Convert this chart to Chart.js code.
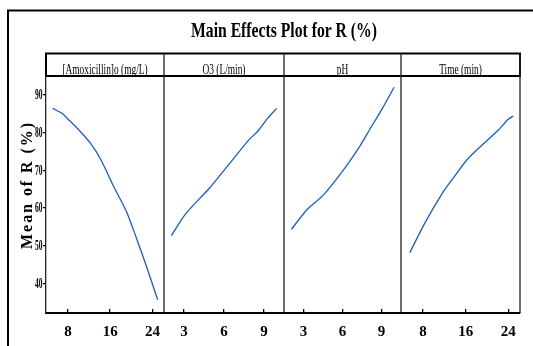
<!DOCTYPE html>
<html><head><meta charset="utf-8">
<script src="https://cdn.jsdelivr.net/npm/chart.js@4"></script>
<style>
html,body{margin:0;padding:0;background:#fff;}
#wrap{position:relative;width:533px;height:346px;overflow:hidden;background:#fff;}
#wrap canvas{position:absolute;left:0;top:0;}
</style></head><body>
<div id="wrap">
<canvas id="c0" width="533" height="346"></canvas>
<canvas id="c1" width="533" height="346"></canvas>
<canvas id="c2" width="533" height="346"></canvas>
<canvas id="c3" width="533" height="346"></canvas>
</div>
<script>
// ---- data ----
const chartTitle = 'Main Effects Plot for R (%)';
const yAxisTitle = 'Mean of R (%)';
const panelTitles = ['[Amoxicillin]o (mg/L)', 'O3 (L/min)', 'pH', 'Time (min)'];

const amoxX = [5.1, 6.9, 8.0, 10.0, 12.3, 14.2, 16.7, 19.1, 21.1, 23.0, 25.0];
const amoxY = [86.4, 85.1, 83.6, 80.8, 77.1, 72.9, 65.6, 59.0, 51.5, 44.0, 35.6];

const o3X = [2.05, 3.05, 4.2, 4.8, 6.2, 7.85, 8.5, 9.25, 9.95];
const o3Y = [52.6, 58.1, 62.6, 64.8, 70.8, 78.0, 80.2, 83.7, 86.4];

const phX = [2.07, 3.26, 4.52, 6.08, 7.3, 8.06, 9.07, 9.97];
const phY = [54.3, 59.5, 63.4, 70.1, 76.2, 80.6, 86.4, 92.0];

const timeX = [5.5, 8.3, 11.8, 13.65, 16.2, 18.4, 22.1, 24.0, 24.95];
const timeY = [48.1, 55.9, 64.3, 67.9, 72.7, 75.8, 80.6, 83.5, 84.4];

const amoxTicks = [8, 16, 24];
const o3Ticks = [3, 6, 9];
const phTicks = [3, 6, 9];
const timeTicks = [8, 16, 24];
const yTicks = [40, 50, 60, 70, 80, 90];

// ---- layout ----
const W = 533, H = 346;
const plotTop = 76, plotBottom = 313, bandTop = 53.5;
const panels = [
  {xs: amoxX, ys: amoxY, ticks: amoxTicks, min: 3.85, max: 26.2, left: 46, right: 164},
  {xs: o3X, ys: o3Y, ticks: o3Ticks, min: 1.5, max: 10.5, left: 164, right: 284},
  {xs: phX, ys: phY, ticks: phTicks, min: 1.5, max: 10.5, left: 284, right: 401},
  {xs: timeX, ys: timeY, ticks: timeTicks, min: 3.85, max: 26.2, left: 401, right: 520}
];
const yMin = 32.1, yMax = 95;
const serif = "'Liberation Serif', 'Times New Roman', serif";

const framePlugin = {
  id: 'frame',
  afterDraw(chart) {
    const ctx = chart.ctx;
    ctx.save();
    // outer frame
    ctx.strokeStyle = '#000';
    ctx.lineWidth = 2;
    ctx.beginPath();
    ctx.moveTo(8, H + 2); ctx.lineTo(8, 10.5); ctx.lineTo(W + 2, 10.5);
    ctx.stroke();
    // header band
    ctx.lineWidth = 2;
    ctx.strokeRect(panels[0].left, bandTop, panels[3].right - panels[0].left, plotTop - bandTop);
    // panel dividers
    ctx.lineWidth = 1.3;
    ctx.strokeStyle = '#222';
    panels.forEach((p) => {
      ctx.beginPath();
      ctx.moveTo(p.right, bandTop); ctx.lineTo(p.right, plotBottom);
      ctx.stroke();
    });
    // title
    ctx.fillStyle = '#000';
    ctx.font = 'bold 21px ' + serif;
    ctx.textAlign = 'center';
    ctx.textBaseline = 'alphabetic';
    const tw = ctx.measureText(chartTitle).width;
    ctx.save();
    ctx.translate(284, 37);
    ctx.scale(186 / tw, 1);
    ctx.fillText(chartTitle, 0, 0);
    ctx.restore();
    // panel headers
    ctx.font = '14px ' + serif;
    panels.forEach((p, i) => {
      ctx.save();
      ctx.translate((p.left + p.right) / 2, 73.5);
      ctx.scale(0.67, 1);
      ctx.fillText(panelTitles[i], 0, 0);
      ctx.restore();
    });
    // y tick labels (condensed), positioned by the library's y scale
    const ys = chart.scales.y;
    ctx.font = 'bold 15px ' + serif;
    ctx.textAlign = 'right';
    ctx.textBaseline = 'middle';
    yTicks.forEach(v => {
      ctx.save();
      ctx.translate(42.5, ys.getPixelForValue(v) + 0.5);
      ctx.scale(0.5, 1);
      ctx.fillText(String(v), 0, 0);
      ctx.restore();
    });
    // y-axis title
    ctx.font = 'bold 16px ' + serif;
    ctx.textAlign = 'center';
    ctx.textBaseline = 'alphabetic';
    ctx.letterSpacing = '0px';
    const yw = ctx.measureText(yAxisTitle).width;
    const sp = Math.max(0, (126 - yw) / (yAxisTitle.length - 1));
    ctx.letterSpacing = sp + 'px';
    ctx.save();
    ctx.translate(31.5, 184 + sp / 2);
    ctx.rotate(-Math.PI / 2);
    ctx.fillText(yAxisTitle, 0, 0);
    ctx.restore();
    ctx.restore();
  }
};

panels.forEach((p, idx) => {
  new Chart(document.getElementById('c' + idx), {
    type: 'line',
    data: {
      datasets: [{
        data: p.xs.map((v, i) => ({x: v, y: p.ys[i]})),
        borderColor: '#1c5db8',
        borderWidth: 1.3,
        pointRadius: 0,
        tension: 0.25,
        fill: false
      }]
    },
    options: {
      responsive: false,
      animation: false,
      devicePixelRatio: 1,
      layout: {padding: {top: plotTop, bottom: 0, left: idx === 0 ? 16 : p.left, right: W - p.right}},
      plugins: {legend: {display: false}, tooltip: {enabled: false}, title: {display: false}},
      scales: {
        x: {
          type: 'linear', min: p.min, max: p.max,
          afterBuildTicks: s => { s.ticks = p.ticks.map(v => ({value: v})); },
          afterFit: s => { s.height = H - plotBottom; },
          grid: {drawOnChartArea: false, tickLength: -4, color: '#000', lineWidth: 1.3},
          border: {display: true, color: '#000', width: 2},
          ticks: {padding: 14, color: '#000', autoSkip: false, maxRotation: 0,
                  font: {family: serif, weight: 'bold', size: 15}}
        },
        y: {
          display: idx === 0, min: yMin, max: yMax,
          afterBuildTicks: s => { s.ticks = yTicks.map(v => ({value: v})); },
          afterFit: s => { s.width = idx === 0 ? 30 : 0; },
          grid: {drawOnChartArea: false, tickLength: 3, color: '#000', lineWidth: 1.3},
          border: {display: true, color: '#222', width: 1.3},
          ticks: {display: false}
        }
      }
    },
    plugins: idx === 0 ? [framePlugin] : []
  });
});
</script>
</body></html>
